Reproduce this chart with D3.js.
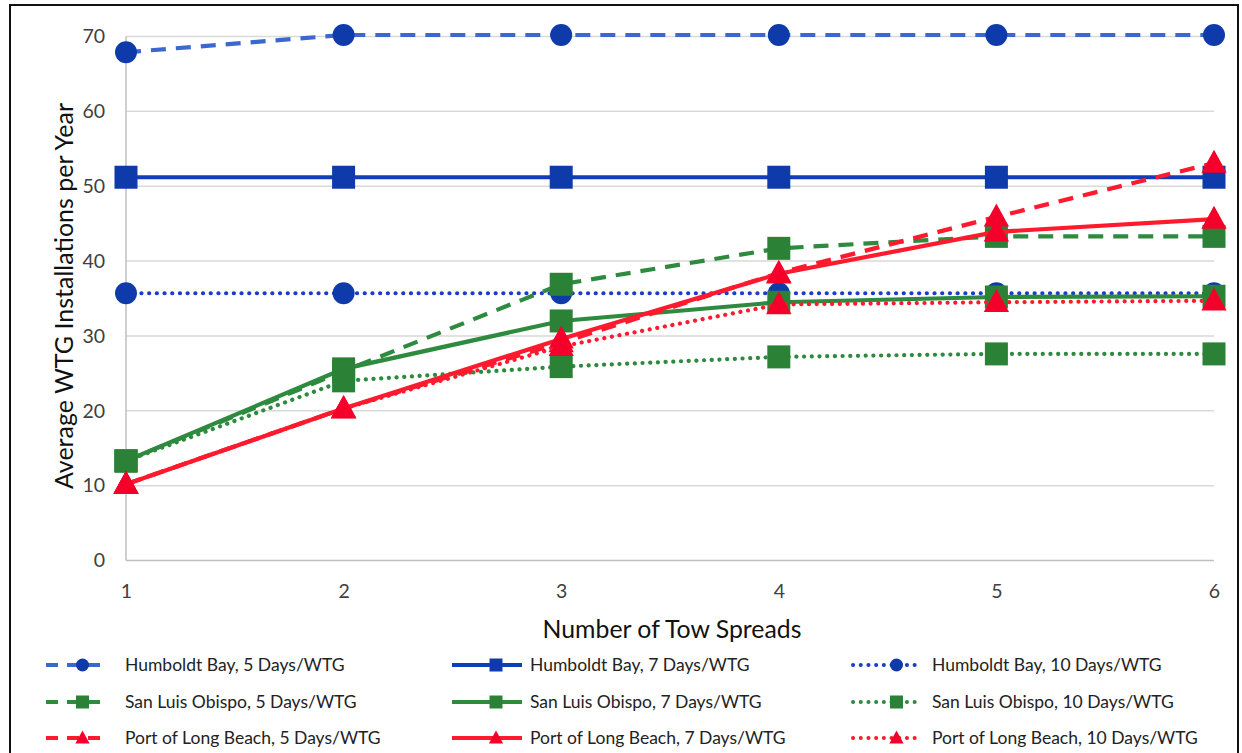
<!DOCTYPE html>
<html><head><meta charset="utf-8">
<script src="https://cdn.jsdelivr.net/npm/d3@7"></script>
<style>body{margin:0;background:#fff}svg{display:block}text{font-family:Lato,"Open Sans",sans-serif}</style>
</head><body>
<svg id="c" width="1242" height="753"></svg>
<script>
const towSpreads = [1, 2, 3, 4, 5, 6];
const yTicks = [0, 10, 20, 30, 40, 50, 60, 70];

const humboldt5 = [67.9, 70.2, 70.2, 70.2, 70.2, 70.2];
const humboldt7 = [51.2, 51.2, 51.2, 51.2, 51.2, 51.2];
const humboldt10 = [35.7, 35.7, 35.7, 35.7, 35.7, 35.7];
const sanLuis5 = [13.3, 25.3, 36.9, 41.7, 43.3, 43.3];
const sanLuis7 = [13.3, 25.6, 32.0, 34.5, 35.2, 35.3];
const sanLuis10 = [13.3, 24.0, 25.9, 27.2, 27.6, 27.6];
const longBeach5 = [10.2, 20.3, 29.1, 38.4, 45.9, 53.1];
const longBeach7 = [10.2, 20.3, 29.6, 38.3, 43.9, 45.6];
const longBeach10 = [10.2, 20.3, 28.6, 34.2, 34.5, 34.7];

const seriesNames = [
  "Humboldt Bay, 5 Days/WTG", "Humboldt Bay, 7 Days/WTG", "Humboldt Bay, 10 Days/WTG",
  "San Luis Obispo, 5 Days/WTG", "San Luis Obispo, 7 Days/WTG", "San Luis Obispo, 10 Days/WTG",
  "Port of Long Beach, 5 Days/WTG", "Port of Long Beach, 7 Days/WTG", "Port of Long Beach, 10 Days/WTG"
];
const seriesValues = [humboldt5, humboldt7, humboldt10, sanLuis5, sanLuis7, sanLuis10, longBeach5, longBeach7, longBeach10];

const lineColors = ["#3a68cf", "#0f3fb8", "#1a3ccc", "#2e8a3e", "#2e8a3e", "#2e8a3e", "#ff1a2e", "#ff1a2e", "#ff1a2e"];
const markerColors = ["#0f3aaa", "#0f3aaa", "#0f3aaa", "#2b8236", "#2b8236", "#2b8236", "#f5002a", "#f5002a", "#f5002a"];
const shapes = ["circle", "square", "circle", "square", "square", "square", "triangle", "triangle", "triangle"];
const dashes = ["dash", "solid", "dot", "dash", "solid", "dot", "dash", "solid", "dot"];

const svg = d3.select("#c");
svg.append("rect").attr("x", 10).attr("y", 5).attr("width", 1228).attr("height", 770)
  .attr("fill", "#fff").attr("stroke", "#111").attr("stroke-width", 2);

const x = d3.scaleLinear().domain([1, 6]).range([126, 1214]);
const y = d3.scaleLinear().domain([0, 70]).range([560.5, 36.5]);

const g = svg.append("g");
g.selectAll("line.grid").data(yTicks.filter(d => d > 0)).join("line")
  .attr("x1", x(1)).attr("x2", x(6)).attr("y1", d => y(d)).attr("y2", d => y(d))
  .attr("stroke", "#d9d9d9").attr("stroke-width", 1.5);
g.append("line").attr("x1", x(1)).attr("x2", x(6)).attr("y1", y(0)).attr("y2", y(0))
  .attr("stroke", "#bfbfbf").attr("stroke-width", 1.5);
g.append("line").attr("x1", x(1)).attr("x2", x(1)).attr("y1", y(0)).attr("y2", y(70))
  .attr("stroke", "#bfbfbf").attr("stroke-width", 1.5);

const yAxis = svg.append("g").attr("transform", `translate(${x(1)},0)`)
  .call(d3.axisLeft(y).tickValues(yTicks).tickSize(0).tickPadding(21));
const xAxis = svg.append("g").attr("transform", `translate(0,${y(0)})`)
  .call(d3.axisBottom(x).tickValues(towSpreads).tickSize(0).tickPadding(24).tickFormat(d3.format("d")));
[yAxis, xAxis].forEach(a => {
  a.select(".domain").remove();
  a.selectAll("text").attr("font-size", 19.5).attr("fill", "#404040").style("font-family", "Lato, sans-serif");
});

svg.append("text").attr("transform", `translate(73,296) rotate(-90)`)
  .attr("text-anchor", "middle").attr("font-size", 25).attr("fill", "#111")
  .text("Average WTG Installations per Year");
svg.append("text").attr("x", 672).attr("y", 638).attr("text-anchor", "middle")
  .attr("font-size", 24.8).attr("fill", "#111").text("Number of Tow Spreads");

function dashArray(k) {
  if (k === "dash") return "15,10";
  if (k === "dot") return "0.1,7.6";
  return null;
}
function drawMarker(sel, shape, color, cx, cy, s) {
  if (shape === "circle") {
    sel.append("circle").attr("cx", cx).attr("cy", cy).attr("r", s * 0.5).attr("fill", color);
  } else if (shape === "square") {
    sel.append("rect").attr("x", cx - s * 0.5).attr("y", cy - s * 0.5).attr("width", s).attr("height", s).attr("fill", color);
  } else {
    const h = s;
    sel.append("path").attr("d", `M${cx},${cy - h * 0.58}L${cx + s * 0.55},${cy + h * 0.42}L${cx - s * 0.55},${cy + h * 0.42}Z`).attr("fill", color);
  }
}

const line = d3.line().x((d, i) => x(towSpreads[i])).y(d => y(d));
seriesValues.forEach((vals, si) => {
  const sg = svg.append("g");
  sg.append("path").attr("d", line(vals)).attr("fill", "none")
    .attr("stroke", lineColors[si]).attr("stroke-width", 4.2)
    .attr("stroke-linecap", dashes[si] === "dot" ? "round" : "butt")
    .attr("stroke-dasharray", dashArray(dashes[si]));
  vals.forEach((v, i) => drawMarker(sg, shapes[si], markerColors[si], x(towSpreads[i]), y(v), shapes[si] === "circle" ? 22 : 23));
});

const legCols = [[46, 101, 125], [452, 522, 530], [853, 922, 932]];
const legRows = [665, 702, 738];
seriesNames.forEach((name, si) => {
  const col = si % 3, row = Math.floor(si / 3);
  const [x0, x1, tx] = legCols[col];
  const ly = legRows[row];
  const lg = svg.append("g");
  lg.append("line").attr("x1", x0).attr("x2", x1).attr("y1", ly).attr("y2", ly)
    .attr("stroke", lineColors[si]).attr("stroke-width", 4)
    .attr("stroke-linecap", dashes[si] === "dot" ? "round" : "butt")
    .attr("stroke-dasharray", dashes[si] === "dash" ? "12,9" : dashArray(dashes[si]));
  drawMarker(lg, shapes[si], markerColors[si], (x0 + x1) / 2 + 9, ly, 13);
  lg.append("text").attr("x", tx).attr("y", ly + 6).attr("font-size", 17.5).attr("fill", "#222").text(name);
});
</script>
</body></html>
